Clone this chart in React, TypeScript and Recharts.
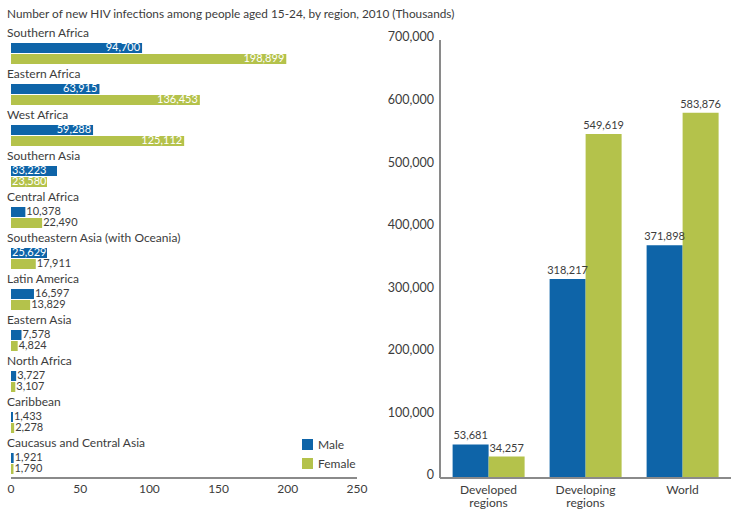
import React from "react";
import { BarChart, Bar, XAxis, YAxis, LabelList } from "recharts";

// new HIV infections among people aged 15-24, 2010
const regions = [
  "Southern Africa",
  "Eastern Africa",
  "West Africa",
  "Southern Asia",
  "Central Africa",
  "Southeastern Asia (with Oceania)",
  "Latin America",
  "Eastern Asia",
  "North Africa",
  "Caribbean",
  "Caucasus and Central Asia",
];
const regionMale = [94700, 63915, 59288, 33223, 10378, 25629, 16597, 7578, 3727, 1433, 1921];
const regionFemale = [198899, 136453, 125112, 23580, 22490, 17911, 13829, 4824, 3107, 2278, 1790];
const regionTicks = [0, 50000, 100000, 150000, 200000, 250000];

const groups = ["Developed regions", "Developing regions", "World"];
const groupMale = [53681, 318217, 371898];
const groupFemale = [34257, 549619, 583876];
const groupTicks = [0, 100000, 200000, 300000, 400000, 500000, 600000, 700000];

const BLUE = "#0e64a8";
const GREEN = "#b4c24b";
const TEXT = "#3c3c3c";
const AXIS = "#8a8a8a";
const FONT = "Lato, 'DejaVu Sans', sans-serif";

const fmt = (v: number) => v.toLocaleString("en-US");

const regionData = regions.map((name, i) => ({
  name,
  spacer: 0,
  male: regionMale[i],
  female: regionFemale[i],
}));

const groupData = groups.map((name, i) => ({
  name,
  male: groupMale[i],
  female: groupFemale[i],
}));

const RegionTick = (props: any) => {
  const { y, payload } = props;
  return (
    <text x={7} y={y - 14} dominantBaseline="middle" fontSize={12} fill={TEXT} fontFamily={FONT}>
      {payload.value}
    </text>
  );
};

// white label inside the bar; short bars get a box in the bar colour behind the text
const makeBarValue = (color: string) => (props: any) => {
  const { x, y, width, height, value } = props;
  const cy = y + height / 2 + 0.5;
  if (value < 23000) {
    return (
      <text x={x + width + 1} y={cy} dominantBaseline="middle" fontSize={11} fill={TEXT} fontFamily={FONT}>
        {fmt(value)}
      </text>
    );
  }
  if (width < 48) {
    return (
      <g>
        <rect x={x} y={y} width={Math.max(width, 36)} height={height} fill={color} />
        <text x={x + 1} y={cy} dominantBaseline="middle" fontSize={11} fill="#ffffff" fontFamily={FONT}>
          {fmt(value)}
        </text>
      </g>
    );
  }
  return (
    <text x={x + width - 2} y={cy} dominantBaseline="middle" textAnchor="end" fontSize={11} fill="#ffffff" fontFamily={FONT}>
      {fmt(value)}
    </text>
  );
};

const MaleValue = makeBarValue(BLUE);
const FemaleValue = makeBarValue(GREEN);

const GroupTick = (props: any) => {
  const { x, y, payload } = props;
  const words = String(payload.value).split(" ");
  return (
    <text x={x} y={y} textAnchor="middle" fontSize={12} fill={TEXT} fontFamily={FONT}>
      {words.map((w, i) => (
        <tspan key={i} x={x} dy={i === 0 ? "0.71em" : 13}>
          {w}
        </tspan>
      ))}
    </text>
  );
};

export default function App() {
  return (
    <div style={{ position: "absolute", left: 0, top: 0, width: 731, height: 512, background: "#fff", fontFamily: FONT }}>
      <div style={{ position: "absolute", left: 7, top: 6, fontSize: 11.8, color: TEXT, whiteSpace: "nowrap" }}>
        Number of new HIV infections among people aged 15-24, by region, 2010 (Thousands)
      </div>

      <div style={{ position: "absolute", left: 0, top: 0 }}>
        <BarChart
          width={372}
          height={512}
          layout="vertical"
          data={regionData}
          margin={{ top: 27, right: 15, left: 10, bottom: 14 }}
          barSize={10}
          barGap={1}
        >
          <XAxis
            type="number"
            domain={[0, 250000]}
            ticks={regionTicks}
            tickFormatter={(v: number) => String(v / 1000)}
            axisLine={{ stroke: AXIS, strokeWidth: 2 }}
            tickLine={false}
            tickSize={0}
            tickMargin={6}
            height={20}
            tick={{ fontSize: 12, fill: TEXT, fontFamily: FONT }}
          />
          <YAxis
            type="category"
            dataKey="name"
            width={1}
            interval={0}
            axisLine={false}
            tickLine={false}
            tick={RegionTick}
          />
          <Bar dataKey="spacer" fill="none" isAnimationActive={false} />
          <Bar dataKey="male" fill={BLUE} isAnimationActive={false}>
            <LabelList dataKey="male" content={MaleValue} />
          </Bar>
          <Bar dataKey="female" fill={GREEN} isAnimationActive={false}>
            <LabelList dataKey="female" content={FemaleValue} />
          </Bar>
        </BarChart>
      </div>

      <div style={{ position: "absolute", left: 302, top: 439, width: 11, height: 11, background: BLUE }} />
      <div style={{ position: "absolute", left: 318, top: 437, fontSize: 12, color: TEXT }}>Male</div>
      <div style={{ position: "absolute", left: 302, top: 458, width: 11, height: 11, background: GREEN }} />
      <div style={{ position: "absolute", left: 318, top: 456, fontSize: 12, color: TEXT }}>Female</div>

      <div style={{ position: "absolute", left: 360, top: 0 }}>
        <BarChart
          width={371}
          height={512}
          data={groupData}
          margin={{ top: 40, right: 0, left: 0, bottom: 0 }}
          barCategoryGap="13%"
          barGap={0}
        >
          <XAxis
            dataKey="name"
            axisLine={{ stroke: AXIS, strokeWidth: 2 }}
            tickLine={false}
            tickSize={0}
            tickMargin={7}
            height={34}
            interval={0}
            tick={<GroupTick />}
          />
          <YAxis
            domain={[0, 700000]}
            ticks={groupTicks}
            tickFormatter={fmt}
            width={80}
            axisLine={{ stroke: AXIS, strokeWidth: 2 }}
            tickLine={false}
            tickSize={0}
            tickMargin={6}
            tick={{ fontSize: 12.5, fill: TEXT, fontFamily: FONT, dy: -3 }}
          />
          <Bar dataKey="male" fill={BLUE} isAnimationActive={false}>
            <LabelList dataKey="male" position="top" offset={5} formatter={(v: any) => fmt(Number(v))} style={{ fontSize: 11, fill: TEXT, fontFamily: FONT }} />
          </Bar>
          <Bar dataKey="female" fill={GREEN} isAnimationActive={false}>
            <LabelList dataKey="female" position="top" offset={5} formatter={(v: any) => fmt(Number(v))} style={{ fontSize: 11, fill: TEXT, fontFamily: FONT }} />
          </Bar>
        </BarChart>
      </div>
    </div>
  );
}
